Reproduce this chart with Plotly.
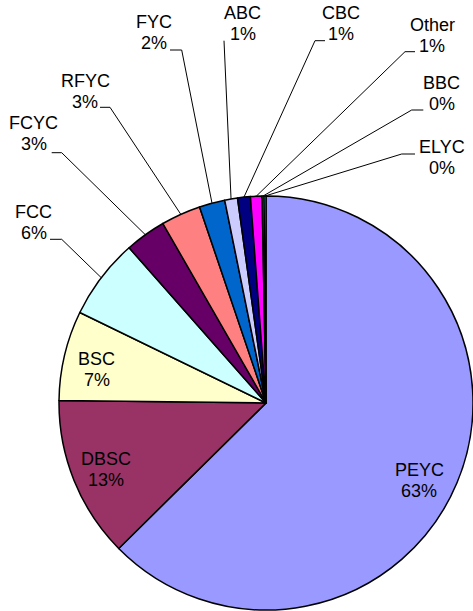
import math
import plotly.graph_objects as go

# ---- data ----
labels = ["PEYC", "DBSC", "BSC", "FCC", "FCYC", "RFYC", "FYC", "ABC", "CBC", "Other", "BBC", "ELYC"]
values = [62.6, 12.6, 7.0, 6.3, 3.2, 3.1, 2.0, 1.0, 1.0, 0.9, 0.15, 0.15]
colors = ["#9999FF", "#993366", "#FFFFCC", "#CCFFFF", "#660066", "#FF8080",
          "#0066CC", "#CCCCFF", "#000080", "#FF00FF", "#FFFF00", "#00FFFF"]

# ---- layout (pixels) ----
W, H = 473, 611
CX, CY, R = 266, 403, 207
FONT = dict(family="Arial, Liberation Sans, sans-serif", size=18, color="black")
LINE_GAP = 21

# label block: (center x, name y)
label_pos = {
    "PEYC": (419, 470), "DBSC": (106, 459), "BSC": (96.5, 359),
    "FCC": (33.5, 211.7), "FCYC": (33.5, 123.3), "RFYC": (85, 80.7),
    "FYC": (153.5, 22), "ABC": (242.7, 12.7), "CBC": (341, 12.7),
    "Other": (432, 25), "BBC": (441.5, 83.3), "ELYC": (441.5, 146.7),
}
# leader stub: (far x, near x, y); the line runs far -> near -> pie edge
stubs = {
    "FCC": (50, 61.7, 239.3), "FCYC": (51.7, 61.7, 152.7), "RFYC": (100, 110, 107.3),
    "FYC": (170, 181.7, 50), "ABC": (224, 224, 40.7), "CBC": (325, 315, 40.7),
    "Other": (415, 405, 51.7), "BBC": (423.3, 411.7, 110), "ELYC": (415, 401.7, 154),
}


def px(x):
    return x / W


def py(y):
    return 1 - y / H


fig = go.Figure(go.Pie(
    labels=labels, values=values, sort=False, direction="clockwise", rotation=0,
    marker=dict(colors=colors, line=dict(color="black", width=1.5)),
    textinfo="none", hoverinfo="label+percent", showlegend=False,
    domain=dict(x=[px(CX - R), px(CX + R)], y=[py(CY + R), py(CY - R)]),
))

total = sum(values)
cum = 0.0
annotations = []
shapes = []
for lab, v in zip(labels, values):
    a = 2 * math.pi * (cum + v / 2) / total
    cum += v
    ex = CX + R * math.sin(a)
    ey = CY - R * math.cos(a)
    pct = round(100 * v / total)
    lx, ly = label_pos[lab]
    annotations.append(dict(x=px(lx), y=py(ly), xref="paper", yref="paper", text=lab,
                            showarrow=False, xanchor="center", yanchor="middle", font=FONT))
    annotations.append(dict(x=px(lx), y=py(ly + LINE_GAP), xref="paper", yref="paper",
                            text=f"{pct}%", showarrow=False, xanchor="center",
                            yanchor="middle", font=FONT))
    if lab in stubs:
        fx, nx, sy = stubs[lab]
        path = f"M {px(fx)} {py(sy)} L {px(nx)} {py(sy)} L {px(ex)} {py(ey)}"
        shapes.append(dict(type="path", path=path, xref="paper", yref="paper",
                           line=dict(color="black", width=1)))

fig.update_layout(
    width=W, height=H, autosize=False,
    margin=dict(l=0, r=0, t=0, b=0),
    paper_bgcolor="white", plot_bgcolor="white",
    annotations=annotations, shapes=shapes,
)

fig.write_html("out.html", config={"displayModeBar": False})

# remove the default page margin so the figure sits at the window's top-left corner
with open("out.html", encoding="utf-8") as f:
    html = f.read()
html = html.replace("<head>", "<head><style>html,body{margin:0;padding:0;overflow:hidden;}</style>", 1)
with open("out.html", "w", encoding="utf-8") as f:
    f.write(html)
